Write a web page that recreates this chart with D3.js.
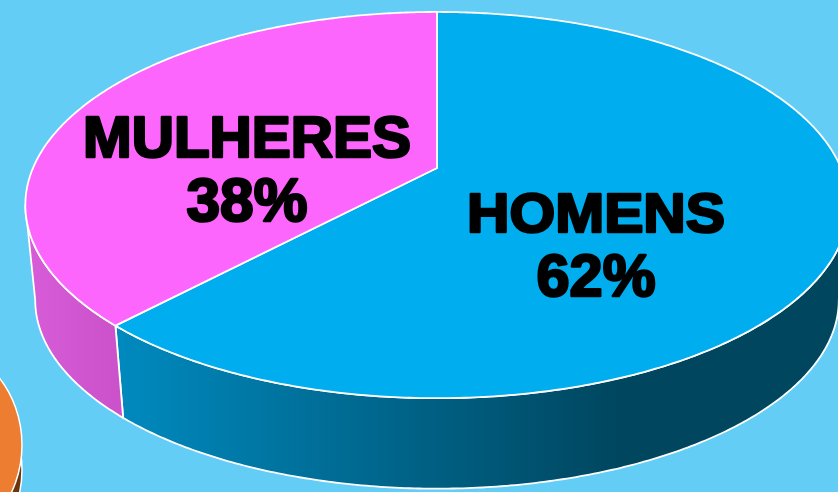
<!DOCTYPE html>
<html>
<head>
<meta charset="utf-8">
<script src="https://cdn.jsdelivr.net/npm/d3@7"></script>
<style>
  body { margin: 0; background: #63cdf6; }
  svg { display: block; }
  .label { font-family: "Liberation Sans", Arial, sans-serif; font-weight: bold; fill: #000; stroke: #000; stroke-width: 2.6; stroke-linejoin: round; text-anchor: middle; }
</style>
</head>
<body>
<div id="chart"></div>
<script>
var width = 838;
var height = 492;

// data
var categories = ["HOMENS", "MULHERES"];
var values = [62, 38];
var labels = ["HOMENS", "MULHERES"];

var topColors = ["#00aeef", "#fd66fd"];
var sideColors = [["#008abf", "#00465f"], ["#d85cd8", "#cb52cb"]];

// perspective of the pie plane
var cx = 437, A = 404, B = 186, k = 0.192;
var levels = [{ cy: 168, s: 1 }, { cy: 264, s: 0.976 }];

function project(a, r, lev) {
  var u = r * Math.sin(a), v = -r * Math.cos(a);
  var w = 1 - k * v;
  var L = levels[lev];
  return [cx + A * L.s * u / w, L.cy + B * L.s * v / w];
}

function arcPts(a0, a1, lev) {
  var n = Math.max(2, Math.ceil(Math.abs(a1 - a0) / 0.01));
  return d3.range(n + 1).map(function(i) {
    return project(a0 + (a1 - a0) * i / n, 1, lev);
  });
}

var line = d3.line();

var svg = d3.select("#chart")
            .append("svg")
            .attr("width", width)
            .attr("height", height);

var defs = svg.append("defs");

// other chart peeking in at the bottom left
svg.append("ellipse")
   .attr("cx", -70).attr("cy", 470).attr("rx", 92).attr("ry", 100)
   .attr("fill", "#6b3510").attr("stroke", "#fff").attr("stroke-width", 1.5);
svg.append("ellipse")
   .attr("cx", -70).attr("cy", 445).attr("rx", 92).attr("ry", 102)
   .attr("fill", "#ed7d31").attr("stroke", "#fff").attr("stroke-width", 1.5);

var pie = d3.pie().sort(null).value(function(d) { return d; });
var arcs = pie(values);

// visible part of the side wall
var visFrom = Math.acos(-k), visTo = 2 * Math.PI - Math.acos(-k);

arcs.forEach(function(d, i) {
  var s0 = Math.max(d.startAngle, visFrom);
  var s1 = Math.min(d.endAngle, visTo);
  if (s1 <= s0) return;
  var p0 = project(s0, 1, 0), p1 = project(s1, 1, 0);
  var g = defs.append("linearGradient")
              .attr("id", "side" + i)
              .attr("gradientUnits", "userSpaceOnUse")
              .attr("x1", Math.max(p1[0], 0)).attr("y1", 0)
              .attr("x2", i === 0 ? 620 : p0[0]).attr("y2", 0);
  g.append("stop").attr("offset", "0%").attr("stop-color", sideColors[i][0]);
  g.append("stop").attr("offset", "100%").attr("stop-color", sideColors[i][1]);

  var pts = arcPts(s0, s1, 0).concat(arcPts(s1, s0, 1));
  svg.append("path")
     .attr("d", line(pts) + "Z")
     .attr("fill", "url(#side" + i + ")")
     .attr("stroke", "#fff")
     .attr("stroke-width", 1.8)
     .attr("stroke-linejoin", "round");
});

arcs.forEach(function(d, i) {
  var pts = [project(0, 0, 0)].concat(arcPts(d.startAngle, d.endAngle, 0));
  svg.append("path")
     .attr("d", line(pts) + "Z")
     .attr("fill", topColors[i])
     .attr("stroke", "#fff")
     .attr("stroke-width", 1.8)
     .attr("stroke-linejoin", "round");
});

// labels
var labelPos = [
  { x: 596, y1: 232, y2: 296, w1: 258, w2: 119, size: 56 },
  { x: 247, y1: 157, y2: 221, w1: 328, w2: 121, size: 58 }
];

arcs.forEach(function(d, i) {
  var p = labelPos[i];
  var pct = Math.round(100 * (d.endAngle - d.startAngle) / (2 * Math.PI)) + "%";
  svg.append("text")
     .attr("class", "label")
     .attr("x", p.x).attr("y", p.y1)
     .attr("font-size", p.size)
     .attr("textLength", p.w1)
     .attr("lengthAdjust", "spacingAndGlyphs")
     .text(labels[i]);
  svg.append("text")
     .attr("class", "label")
     .attr("x", p.x).attr("y", p.y2)
     .attr("font-size", p.size + 4)
     .attr("textLength", p.w2)
     .attr("lengthAdjust", "spacingAndGlyphs")
     .text(pct);
});
</script>
</body>
</html>
